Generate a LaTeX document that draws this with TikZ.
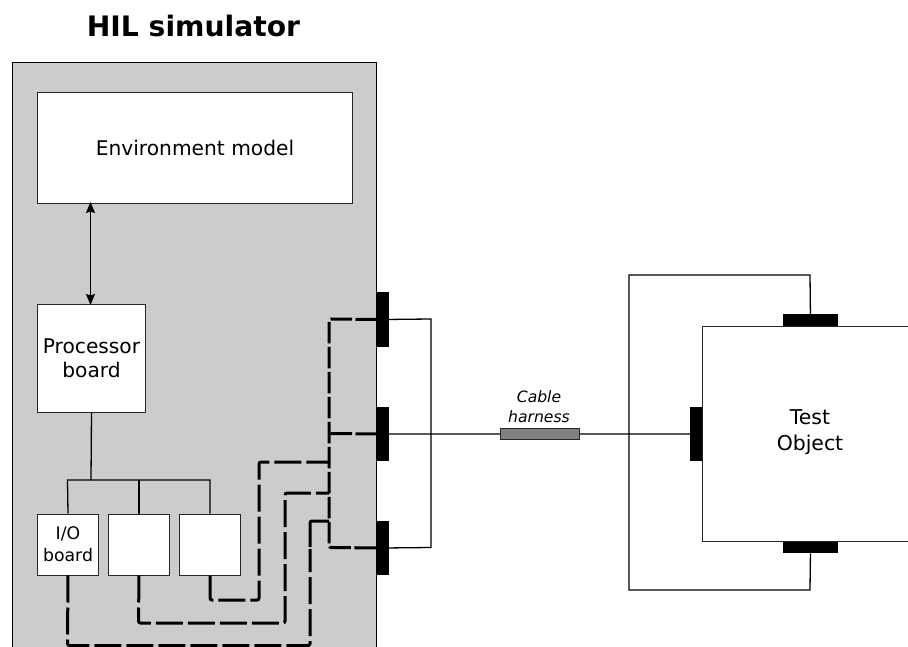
\documentclass[tikz,border=0pt]{standalone}
\usepackage{fontspec}
\setmainfont{DejaVu Sans}
\usetikzlibrary{arrows.meta}
\tikzset{
  box/.style={draw=black!85,fill=white,line width=1pt,anchor=north west,inner sep=0pt,align=center,font=\fontsize{20.2}{24.5}\selectfont},
  conn/.style={fill=black,draw=none,inner sep=0pt,anchor=north west},
  thin line/.style={draw=black,line width=1.3pt},
  dash line/.style={draw=black,line width=3pt,dash pattern=on 27pt off 5pt,rounded corners=2pt},
  bus line/.style={draw=black,line width=3pt,dash pattern=on 21.5pt off 3.5pt,rounded corners=2pt},
  stub line/.style={draw=black,line width=3pt,rounded corners=2pt},
}
\begin{document}
\begin{tikzpicture}[x=1pt,y=-1pt]
\useasboundingbox (0,0) rectangle (908,647);
\node[anchor=center,font=\bfseries\fontsize{28.2}{32}\selectfont] (title) at (193.5,26) {HIL simulator};
% simulator cabinet, open at the bottom edge
\fill[black!20] (12.5,62.5) rectangle (376.5,647);
\draw[line width=1.1pt] (12.5,647) -- (12.5,62.5) -- (376.5,62.5) -- (376.5,647);
% boxes
\node[box,minimum width=315pt,minimum height=111pt] (env) at (37,92) {Environment model};
\node[box,minimum width=108pt,minimum height=108pt] (proc) at (37,304) {Processor\\board};
\node[box,minimum width=61pt,minimum height=61pt,font=\fontsize{17.3}{22}\selectfont] (io1) at (37,513.5) {I/O\\board};
\node[box,minimum width=61pt,minimum height=61pt] (io2) at (108,513.5) {};
\node[box,minimum width=61pt,minimum height=61pt] (io3) at (179,513.5) {};
\node[box,minimum width=230pt,minimum height=215.5pt] (dut) at (702,325.5) {};
\node[font=\fontsize{20.4}{26}\selectfont,align=center] (dutlabel) at (810,432) {Test\\Object};
% connectors
\node[conn,minimum width=11.5pt,minimum height=54.5pt] (c1) at (377,292) {};
\node[conn,minimum width=11.5pt,minimum height=54.5pt] (c2) at (377,406.5) {};
\node[conn,minimum width=11.5pt,minimum height=54.5pt] (c3) at (377,520.5) {};
\node[conn,minimum width=11.5pt,minimum height=54.5pt] (d1) at (690,406.5) {};
\node[conn,minimum width=54.5pt,minimum height=11.5pt] (d2) at (783,314) {};
\node[conn,minimum width=54.5pt,minimum height=11.5pt] (d3) at (783,541.5) {};
% cable harness
\node[draw=black!85,fill=black!50,line width=1pt,anchor=north west,inner sep=0pt,minimum width=79pt,minimum height=11pt] (cable) at (500,428) {};
\node[font=\itshape\fontsize{15.6}{20}\selectfont,align=center] (cablelabel) at (539,407) {Cable\\harness};
% thin wiring
\draw[{Stealth[length=11pt,width=9pt,inset=1.5pt]}-{Stealth[length=11pt,width=9pt,inset=1.5pt]},line width=1.1pt] (90.5,202) -- (90.5,305);
\coordinate (bus) at (91,480);
\draw[thin line] (proc.south) -- (bus);
\draw[thin line] (io1.north) -- (67.5,480) -- (io3.north |- 0,480) -- (io3.north);
\draw[thin line] (io2.north) -- (io2.north |- 0,480);
\draw[thin line] (c1.east) -- (431,319) -- (431,547.5) -- (c3.east);
\draw[thin line] (c2.east) -- (cable.west);
\draw[thin line] (cable.east) -- (d1.west);
\draw[thin line] (d2.north) -- (810,275) -- (629,275) -- (629,590) -- (810,590) -- (d3.south);
% dashed wiring
\draw[bus line] (c1.west) -- (329,319) -- (329,547.5) -- (c3.west);
\draw[bus line] (c2.west) -- (329,433.5);
\draw[dash line] (io3.south) -- (210,600) -- (259,600) -- (259,462) -- (329,462);
\draw[dash line] (io2.south) -- (138.5,623) -- (285,623) -- (285,493) -- (329,493);
\draw[dash line] (io1.south) -- (67.5,645.5) -- (310,645.5) -- (310,549);
\draw[stub line] (310,547) -- (310,521) -- (329,521);
\end{tikzpicture}
\end{document}
